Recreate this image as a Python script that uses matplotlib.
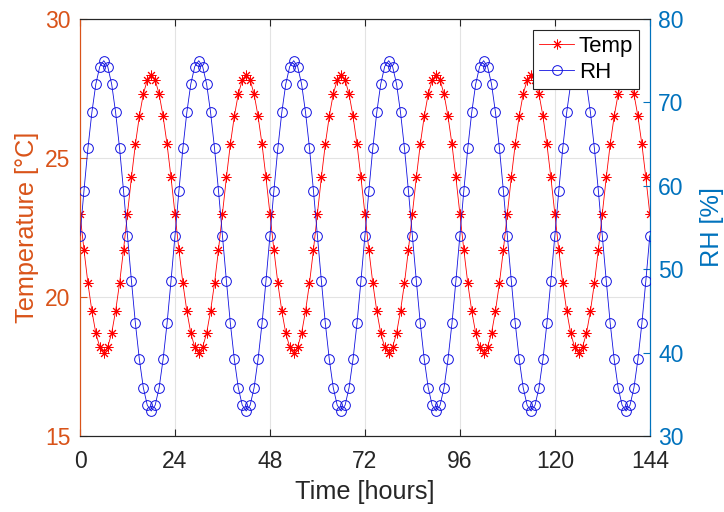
import numpy as np
import matplotlib
matplotlib.use('Agg')
import matplotlib.pyplot as plt
from matplotlib.lines import Line2D

# hourly readings for one day (same cycle repeats over the 6 days shown)
temp_day = [23.0, 21.7, 20.5, 19.5, 18.7, 18.2, 18.0, 18.2, 18.7, 19.5, 20.5, 21.7,
            23.0, 24.3, 25.5, 26.5, 27.3, 27.8, 28.0, 27.8, 27.3, 26.5, 25.5, 24.3]
rh_day = [54.0, 59.4, 64.5, 68.8, 72.2, 74.3, 75.0, 74.3, 72.2, 68.8, 64.5, 59.4,
          54.0, 48.6, 43.5, 39.2, 35.8, 33.7, 33.0, 33.7, 35.8, 39.2, 43.5, 48.6]
n_days = 6

temp = temp_day * n_days + [temp_day[0]]
rh = rh_day * n_days + [rh_day[0]]
hours = np.arange(len(temp))

x_ticks = [0, 24, 48, 72, 96, 120, 144]
temp_ticks = [15, 20, 25, 30]
rh_ticks = [30, 40, 50, 60, 70, 80]

ORANGE = '#D95319'
BLUE = '#0072BD'
DARK = '#262626'

plt.rcParams['font.family'] = ['Liberation Sans', 'DejaVu Sans']

fig = plt.figure(figsize=(7.24, 5.12), dpi=100)
ax1 = fig.add_axes([0.1105, 0.1484, 0.787, 0.8145])
ax2 = ax1.twinx()

star = (8, 2, 0)
ax1.plot(hours, temp, color='red', linewidth=0.6, marker=star, markersize=7,
         markeredgewidth=0.7, label='Temp', zorder=3)
ax2.plot(hours, rh, color='#1010E0', linewidth=0.6, marker='o', markersize=7,
         markerfacecolor='none', markeredgewidth=0.7, label='RH', zorder=3)

ax1.set_xlim(0, 144)
ax1.set_ylim(15, 30)
ax2.set_ylim(30, 80)
ax1.set_xticks(x_ticks)
ax1.set_yticks(temp_ticks)
ax2.set_yticks(rh_ticks)

ax1.grid(True, color='#E3E3E3', linewidth=0.8)
ax1.set_axisbelow(True)

ax1.tick_params(axis='x', direction='in', length=5, width=0.8, colors=DARK,
                labelsize=16.5, pad=10, top=True)
ax1.tick_params(axis='y', direction='in', length=5, width=0.8, colors=ORANGE,
                labelsize=16.5, pad=7)
ax2.tick_params(axis='y', direction='in', length=5, width=0.8, colors=BLUE,
                labelsize=16.5, pad=6)

for ax in (ax1, ax2):
    ax.spines['top'].set_color(DARK)
    ax.spines['bottom'].set_color(DARK)
    ax.spines['left'].set_color(ORANGE)
    ax.spines['right'].set_color(BLUE)
    for s in ax.spines.values():
        s.set_linewidth(0.8)

ax1.set_xlabel('Time [hours]', fontsize=18.2, color=DARK, labelpad=5)
ax1.set_ylabel('Temperature [°C]', fontsize=18.2, color=ORANGE, labelpad=4)
ax2.set_ylabel('RH [%]', fontsize=18.2, color=BLUE, labelpad=12)

handles = [
    Line2D([], [], color='red', linewidth=0.6, marker=star, markersize=7, markeredgewidth=0.7),
    Line2D([], [], color='#1010E0', linewidth=0.6, marker='o', markersize=7,
           markerfacecolor='none', markeredgewidth=0.7),
]
leg = ax2.legend(handles, ['Temp', 'RH'], loc='upper right', fontsize=16,
                 frameon=True, fancybox=False, framealpha=1, edgecolor=DARK,
                 borderaxespad=0.5, handlelength=1.6, handletextpad=0.2,
                 borderpad=0.25, labelspacing=0.25)
leg.get_frame().set_linewidth(0.8)

fig.savefig('out.png', dpi=100, facecolor='white')
